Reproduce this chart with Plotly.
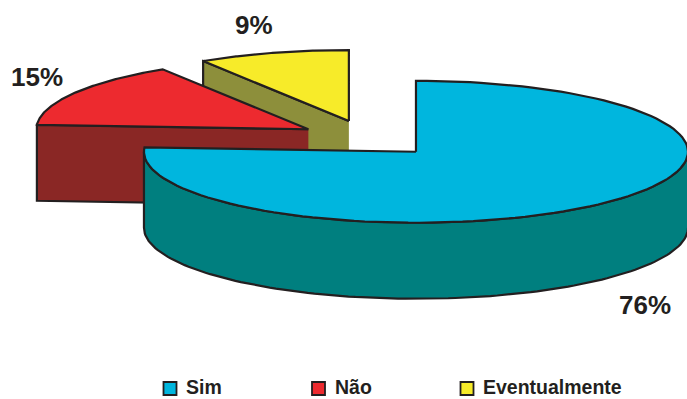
import numpy as np
import plotly.graph_objects as go

# Survey answers and their shares (percent)
categories = ["Sim", "Não", "Eventualmente"]
values = [76, 15, 9]

# Colours: top face, side face
top_colors = ["#00B6DE", "#ED2A2F", "#F7EB29"]
side_colors = ["#007F7F", "#8A2725", "#8D8F3B"]
edge_color = "#231F20"

# Geometry of the 3-D pie, in page pixels (y grows downwards)
W, H = 687, 399
CX, CY = 368.3, 138.5      # centre of the un-exploded pie top
RX, RY = 272.0, 71.0       # radii of the tilted ellipse
DEPTH = 76.0               # thickness of the pie
EXPLODE = 0.256            # explosion, as a fraction of the radius

# Label anchor positions (centre of each percentage label)
label_pos = [(645, 305), (37, 77), (254, 25)]


def rim(cx, cy, deg, dz=0.0):
    t = np.radians(deg)
    return cx + RX * np.sin(t), cy - RY * np.cos(t) + dz


def arc(cx, cy, a, b, dz=0.0, n=120):
    ang = np.linspace(a, b, n)
    t = np.radians(ang)
    return list(cx + RX * np.sin(t)), list(cy - RY * np.cos(t) + dz)


total = float(sum(values))
bounds = np.concatenate([[0.0], np.cumsum(values) / total * 360.0])

slices = []
for i, (cat, v) in enumerate(zip(categories, values)):
    s, e = bounds[i], bounds[i + 1]
    m = np.radians((s + e) / 2.0)
    sx = CX + EXPLODE * RX * np.sin(m)
    sy = CY - EXPLODE * RY * np.cos(m)
    faces = []
    # flat cut faces that turn towards the viewer
    for ang, visible in ((s, np.sin(np.radians(s)) < -1e-6),
                         (e, np.sin(np.radians(e)) > 1e-6)):
        if visible:
            px, py = rim(sx, sy, ang)
            faces.append(([sx, px, px, sx], [sy, py, py + DEPTH, sy + DEPTH],
                          side_colors[i]))
    # curved outer wall on the front half
    a, b = max(s, 90.0), min(e, 270.0)
    if a < b:
        tx, ty = arc(sx, sy, a, b)
        bx, by = arc(sx, sy, b, a, DEPTH)
        faces.append((tx + bx, ty + by, side_colors[i]))
    # top face
    tx, ty = arc(sx, sy, s, e)
    faces.append(([sx] + tx + [sx], [sy] + ty + [sy], top_colors[i]))
    slices.append((sy, faces))

fig = go.Figure()
# paint the slices from back to front
for _, faces in sorted(slices, key=lambda z: z[0]):
    for fx, fy, col in faces:
        fig.add_trace(go.Scatter(
            x=fx, y=fy, mode="lines", fill="toself", fillcolor=col,
            line=dict(color=edge_color, width=2.2), hoverinfo="skip",
            showlegend=False))

annotations = []
for (lx, ly), v in zip(label_pos, values):
    annotations.append(dict(
        x=lx, y=ly, xref="x", yref="y", text=f"<b>{v}%</b>", showarrow=False,
        xanchor="center", yanchor="middle",
        font=dict(family="Liberation Sans, Arial", size=26, color=edge_color)))

# legend row: square swatch followed by the category name
shapes = []
LEG_X0, LEG_STEP, LEG_Y, SQ = 170.0, 148.5, 388.5, 13.0
for i, cat in enumerate(categories):
    cx = LEG_X0 + LEG_STEP * i
    shapes.append(dict(type="rect", xref="x", yref="y",
                       x0=cx - SQ / 2, x1=cx + SQ / 2,
                       y0=LEG_Y - SQ / 2, y1=LEG_Y + SQ / 2,
                       fillcolor=top_colors[i],
                       line=dict(color=edge_color, width=1.8)))
    annotations.append(dict(
        x=cx + 15, y=LEG_Y - 1.5, xref="x", yref="y", text=f"<b>{cat}</b>",
        showarrow=False, xanchor="left", yanchor="middle", borderpad=0,
        font=dict(family="Liberation Sans, Arial", size=19.5, color=edge_color)))

fig.update_layout(
    width=W, height=H, margin=dict(l=0, r=0, t=0, b=0),
    paper_bgcolor="white", plot_bgcolor="white",
    xaxis=dict(range=[0, W], visible=False, fixedrange=True),
    yaxis=dict(range=[H, 0], visible=False, fixedrange=True),
    shapes=shapes, annotations=annotations, showlegend=False)

fig.write_html("out.html", config={"displayModeBar": False})
